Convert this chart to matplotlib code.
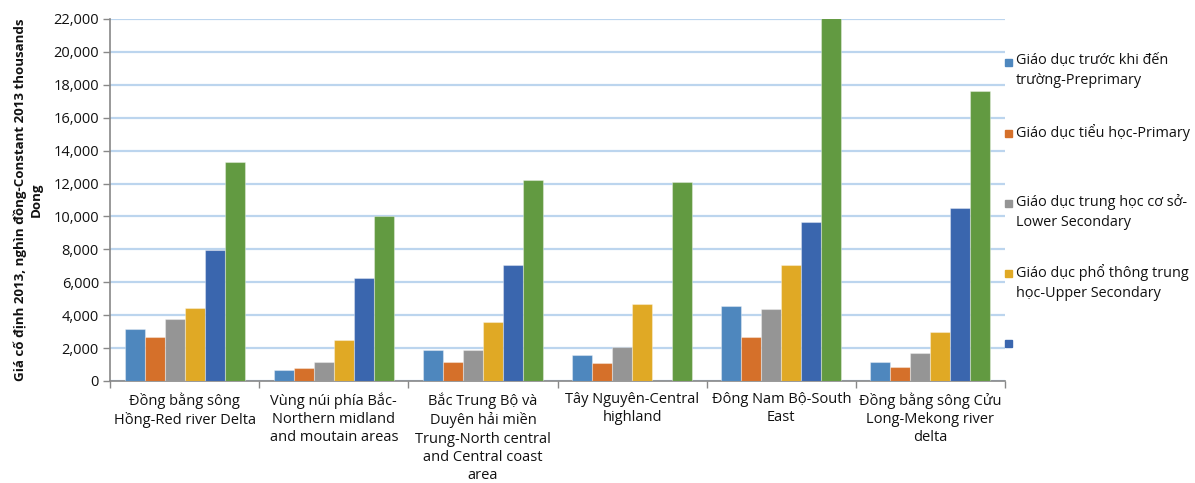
import matplotlib
matplotlib.use("Agg")
import matplotlib.pyplot as plt
import numpy as np
from matplotlib.patches import Rectangle

plt.rcParams['font.family'] = ['Open Sans', 'DejaVu Sans']

categories = [
    "Đồng bằng sông\nHồng-Red river Delta",
    "Vùng núi phía Bắc-\nNorthern midland\nand moutain areas",
    "Bắc Trung Bộ và\nDuyên hải miền\nTrung-North central\nand Central coast\narea",
    "Tây Nguyên-Central\nhighland",
    "Đông Nam Bộ-South\nEast",
    "Đồng bằng sông Cửu\nLong-Mekong river\ndelta",
]
series_names = [
    "Giáo dục trước khi đến\ntrường-Preprimary",
    "Giáo dục tiểu học-Primary",
    "Giáo dục trung học cơ sở-\nLower Secondary",
    "Giáo dục phổ thông trung\nhọc-Upper Secondary",
    "",
    None,
]
preprimary = [3160, 670, 1870, 1560, 4560, 1170]
primary = [2660, 770, 1170, 1070, 2660, 870]
lower_sec = [3750, 1170, 1870, 2070, 4360, 1680]
upper_sec = [4460, 2470, 3570, 4660, 7050, 2960]
series5 = [7960, 6260, 7050, 0, 9650, 10530]
series6 = [13300, 10030, 12220, 12120, 22050, 17610]
values = [preprimary, primary, lower_sec, upper_sec, series5, series6]
colors = ["#4E87BE", "#D5702A", "#959595", "#E0A925", "#3A66AE", "#629A41"]
yticks = list(range(0, 22001, 2000))

fig = plt.figure(figsize=(11.95, 4.83), dpi=100)
ax = fig.add_axes([110/1195, 1-381/483, (1005-110)/1195, (381-19)/483])

n = len(values)
bw = 0.134
x = np.arange(len(categories))
for i, (vals, c) in enumerate(zip(values, colors)):
    offs = (i - (n-1)/2) * bw
    ax.bar(x + offs, vals, width=bw, color=c, edgecolor=(1, 1, 1, 0.35), linewidth=0.8, zorder=3)

ax.set_xlim(-0.5, len(categories)-0.5)
ax.set_ylim(0, 22000)
ax.set_yticks(yticks)
ax.set_yticklabels([f"{v:,}" for v in yticks], fontsize=10.5, color="#111111")
ax.yaxis.grid(True, color="#BCD5EE", linewidth=1.6, zorder=0)
ax.set_axisbelow(True)
ax.tick_params(axis='y', length=5, width=1, color="#888888", direction='out', pad=3)

ax.set_xticks(x)
ax.set_xticklabels(categories, fontsize=10.5, color="#111111", linespacing=1.3)
ax.set_xticks(np.arange(-0.5, len(categories), 1.0), minor=True)
ax.tick_params(axis='x', which='major', length=0, pad=8)
ax.tick_params(axis='x', which='minor', length=5, width=1, color="#888888", direction='out')

for s in ['top', 'right']:
    ax.spines[s].set_visible(False)
for s in ['left', 'bottom']:
    ax.spines[s].set_color("#888888")
    ax.spines[s].set_linewidth(1.2)

fig.text(28/1195, 1-200/483,
         "Giá cố định 2013, nghìn đồng-Constant 2013 thousands\nDong",
         rotation=90, ha='center', va='center', fontsize=9.6, fontweight='bold',
         linespacing=1.3, color="#111111")

# legend (manual)
marker_y = [62, 133, 203, 273, 343]
for name, c, yy in zip(series_names, colors, marker_y):
    fig.patches.append(Rectangle((1005/1195, 1-(yy+4)/483), 7/1195, 7/483,
                                 transform=fig.transFigure, color=c))
    if name:
        fig.text(1016/1195, 1-(yy-9)/483, name, ha='left', va='top', fontsize=10.4,
                 color="#111111", linespacing=1.45)

fig.savefig("out.png", dpi=100)
